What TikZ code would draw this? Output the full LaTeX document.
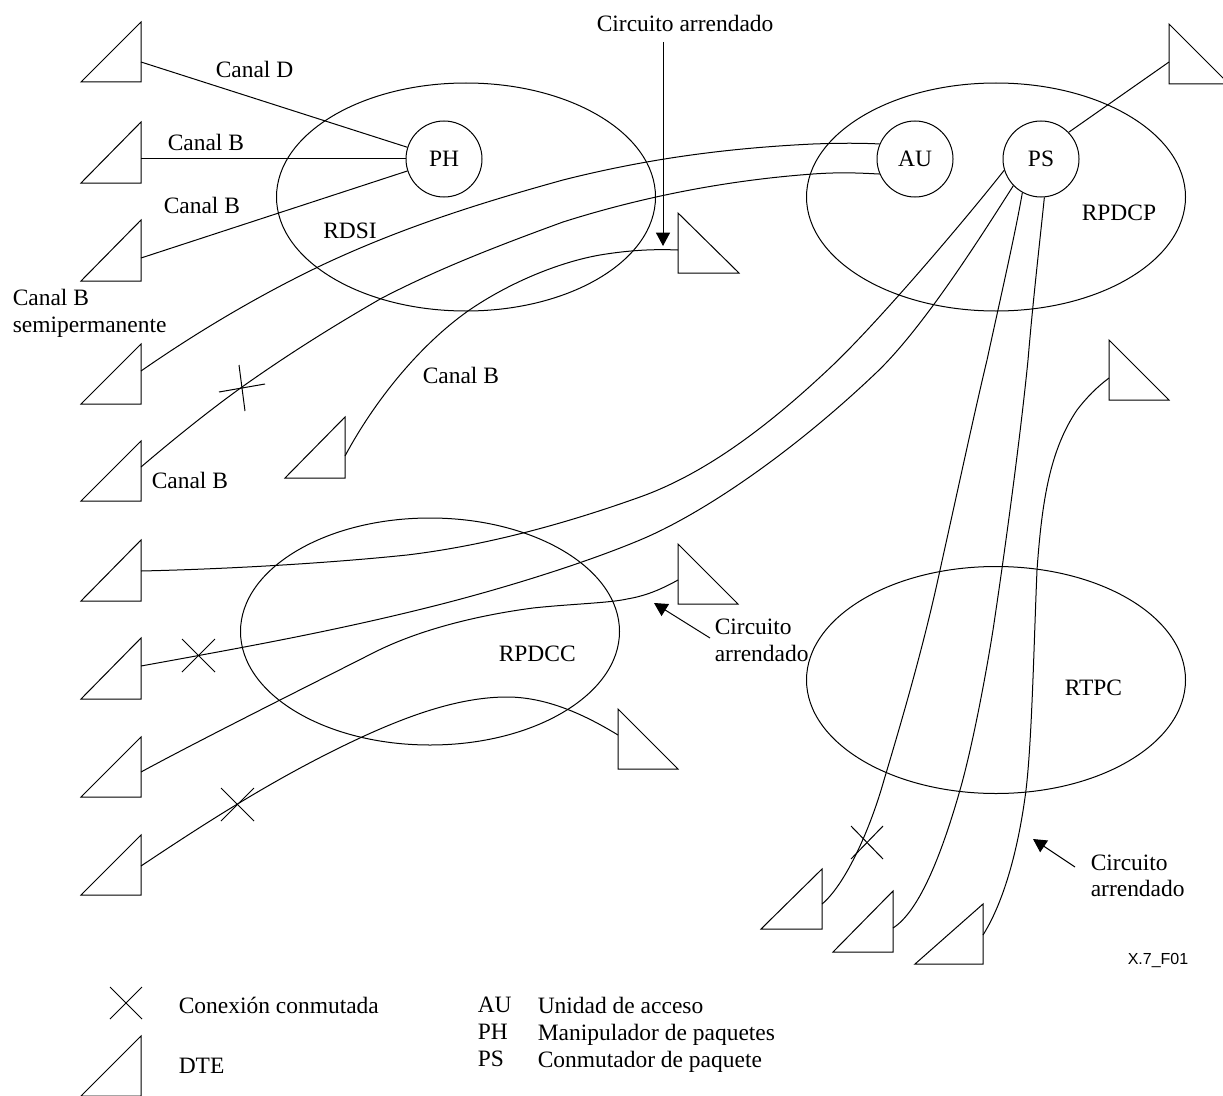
\documentclass[tikz,border=0pt]{standalone}
\usepackage{fontspec}
\setmainfont{Liberation Serif}
\newfontfamily\labelsans{Liberation Sans}
\usetikzlibrary{arrows.meta}
\tikzset{
  lineone/.style={line width=0.75pt},
  station/.style={draw,circle,line width=0.75pt,minimum size=57pt,inner sep=0.75pt,font=\fontsize{17.6}{21}\selectfont},
  textnode/.style={anchor=north west,inner sep=0.75pt,font=\fontsize{17.6}{21}\selectfont,align=left},
  pointer/.style={line width=0.75pt,-{Triangle[length=10pt,width=10.5pt]}},
}
\begin{document}
\begin{tikzpicture}[x=0.75pt,y=0.75pt,yscale=-1,xscale=1]
\clip (0,0) rectangle (1223,1095);

%Shape: Ellipse
\draw [lineone] (466,197) ellipse (189.5 and 114);
\draw [lineone] (996,197) ellipse (189.5 and 114);
\draw [lineone] (430,631.5) ellipse (189.5 and 113.5);
\draw [lineone] (996,680) ellipse (189.5 and 113.5);

% Stations
\node [station] (ph) at (444,159) {PH};
\node [station] (au) at (915,159) {AU};
\node [station] (ps) at (1041,159) {PS};

%Shape: Right Triangle
\draw [lineone] (141,22) -- (141,82) -- (81,82) -- cycle;
\draw [lineone] (141,122) -- (141,183) -- (81,183) -- cycle;
\draw [lineone] (141,220) -- (141,281) -- (81,281) -- cycle;
\draw [lineone] (141,344) -- (141,404) -- (81,404) -- cycle;
\draw [lineone] (141,441) -- (141,501) -- (81,501) -- cycle;
\draw [lineone] (141,540) -- (141,601) -- (81,601) -- cycle;
\draw [lineone] (141,638) -- (141,699) -- (81,699) -- cycle;
\draw [lineone] (141,737) -- (141,797) -- (81,797) -- cycle;
\draw [lineone] (141,835) -- (141,895) -- (81,895) -- cycle;
\draw [lineone] (345,417) -- (345,478) -- (285,478) -- cycle;
\draw [lineone] (822,869) -- (822,929) -- (761,929) -- cycle;
\draw [lineone] (893,891) -- (893,952) -- (833,952) -- cycle;
\draw [lineone] (983,904) -- (983,964) -- (915,964) -- cycle;
\draw [lineone] (141,1036) -- (141,1096) -- (81,1096) -- cycle;
\draw [lineone] (678,213) -- (678,273) -- (739,273) -- cycle;
\draw [lineone] (678,544) -- (678,604) -- (738,604) -- cycle;
\draw [lineone] (618,709) -- (618,769) -- (678,769) -- cycle;
\draw [lineone] (1109,340) -- (1109,400) -- (1169,400) -- cycle;
\draw [lineone] (1169,24) -- (1169,84) -- (1229,84) -- cycle;

% Line ends at the triangles
\coordinate (dteD) at (141,62);
\coordinate (dteBa) at (141,159);
\coordinate (dteBb) at (141,258);
\coordinate (dteSemi) at (141,371);
\coordinate (dteCross) at (141,467);
\coordinate (dteInner) at (345,456);
\coordinate (dteInnerR) at (678,250);
\coordinate (dteFar) at (1169,62);
\coordinate (dteX) at (141,571);
\coordinate (dteY) at (141,666);
\coordinate (dteZ) at (141,772);
\coordinate (dteZR) at (678,580);
\coordinate (dteW) at (141,866);
\coordinate (dteWR) at (618,735);
\coordinate (dteP) at (822,904);
\coordinate (dteQ) at (893,928);
\coordinate (dteR) at (983,935);
\coordinate (dteRR) at (1109,378);

%Straight Lines
\draw [lineone] (dteD) -- (ph);
\draw [lineone] (dteBa) -- (ph);
\draw [lineone] (dteBb) -- (ph);
\draw [lineone] (ps.44) -- (dteFar);

%Curve Lines
\draw [lineone] (dteSemi) .. controls (200,330) and (260,295) .. (318,267) .. controls (400,228) and (480,203) .. (563,180) .. controls (650,158) and (730,148) .. (813,144) .. controls (840,143) and (860,143) .. (au.157);
\draw [lineone] (dteCross) .. controls (175,438) and (210,410) .. (242,387) .. controls (290,353) and (335,325) .. (382,298) .. controls (440,268) and (500,245) .. (563,222) .. controls (645,196) and (730,180) .. (813,174) .. controls (840,172) and (860,173) .. (au.203);
\draw [lineone] (dteInner) .. controls (375,400) and (420,345) .. (468,311) .. controls (510,282) and (560,262) .. (600,255) .. controls (630,250) and (655,249) .. (dteInnerR);
\draw [lineone] (dteX) .. controls (230,569) and (330,563) .. (407,555) .. controls (490,545) and (570,522) .. (640,497) .. controls (710,472) and (775,420) .. (833,365) .. controls (880,320) and (965,220) .. (ps.197);
\draw [lineone] (dteY) .. controls (240,648) and (330,632) .. (430,607) .. controls (510,587) and (590,561) .. (640,540) .. controls (700,515) and (790,455) .. (877,372) .. controls (925,326) and (985,230) .. (ps.224);
\draw [lineone] (dteZ) .. controls (200,740) and (300,690) .. (373,653) .. controls (420,629) and (480,615) .. (533,608) .. controls (570,604) and (610,603) .. (627,599) .. controls (645,596) and (660,590) .. (dteZR);
\draw [lineone] (dteW) .. controls (210,820) and (280,775) .. (362,737) .. controls (410,715) and (460,697) .. (507,697) .. controls (550,697) and (590,718) .. (dteWR);
\draw [lineone] (dteP) .. controls (845,885) and (870,830) .. (884,780) .. controls (905,710) and (925,640) .. (940,570) .. controls (960,480) and (975,410) .. (987,360) .. controls (1000,300) and (1015,235) .. (ps.241);
\draw [lineone] (dteQ) .. controls (918,912) and (940,860) .. (960,790) .. controls (972,748) and (985,680) .. (993,630) .. controls (1005,550) and (1020,440) .. (1028,360) .. controls (1033,300) and (1040,240) .. (ps.275);
\draw [lineone] (dteR) .. controls (1005,900) and (1019,845) .. (1026,790) .. controls (1032,740) and (1034,640) .. (1037,570) .. controls (1042,500) and (1050,450) .. (1077,410) .. controls (1087,397) and (1097,387) .. (dteRR);

%Crossings
\draw [lineone] (219,392) -- (265,384);
\draw [lineone] (239,365) -- (245,411);
\draw [lineone] (182,639) -- (215,672);
\draw [lineone] (182,672) -- (215,639);
\draw [lineone] (221,788) -- (254,821);
\draw [lineone] (221,821) -- (254,788);
\draw [lineone] (851,826) -- (883,859);
\draw [lineone] (851,859) -- (883,826);
\draw [lineone] (110,987) -- (142,1019);
\draw [lineone] (110,1019) -- (142,987);

%Pointers
\coordinate (pointA) at (663,42);
\coordinate (pointAe) at (663,246);
\coordinate (pointB) at (710,638);
\coordinate (pointBe) at (654,603);
\coordinate (pointC) at (1075,867);
\coordinate (pointCe) at (1033,839);
\draw [pointer] (pointA) -- (pointAe);
\draw [pointer] (pointB) -- (pointBe);
\draw [pointer] (pointC) -- (pointCe);

% Text Node
\node [textnode] (leasedtop) at (595.5,14) {Circuito arrendado};
\node [textnode] (canalD) at (214.5,60) {Canal D};
\node [textnode] (canalBa) at (166.5,133) {Canal B};
\node [textnode] (canalBb) at (162.5,196) {Canal B};
\node [textnode] (rdsi) at (322,222) {RDSI};
\node [textnode] (semi) at (11.5,288) {Canal B\\[-1pt]semipermanente};
\node [textnode] (canalBc) at (421.5,366) {Canal B};
\node [textnode] (canalBd) at (150.5,471) {Canal B};
\node [textnode] (rpdcp) at (1080.5,204) {RPDCP};
\node [textnode] (rpdcc) at (497.5,645) {RPDCC};
\node [textnode] (leasedmid) at (713.5,618) {Circuito\\[-1pt]arrendado};
\node [textnode] (rtpc) at (1063.5,679) {RTPC};
\node [textnode] (leasedlow) at (1089.5,853.5) {Circuito\\[-1pt]arrendado};
\node [textnode,font=\labelsans\fontsize{12}{14}\selectfont] (figcode) at (1126.5,952) {X.7\_F01};
\node [textnode] (keyX) at (177.5,996) {Conexión conmutada};
\node [textnode] (keyDTE) at (177.5,1057) {DTE};
\node [textnode] (keyAU) at (476.5,996) {AU};
\node [textnode] (keyPH) at (476.5,1023) {PH};
\node [textnode] (keyPS) at (476.5,1050) {PS};
\node [textnode] (keyAUt) at (536.5,996) {Unidad de acceso};
\node [textnode] (keyPHt) at (536.5,1023) {Manipulador de paquetes};
\node [textnode] (keyPSt) at (536.5,1050) {Conmutador de paquete};

\end{tikzpicture}
\end{document}
